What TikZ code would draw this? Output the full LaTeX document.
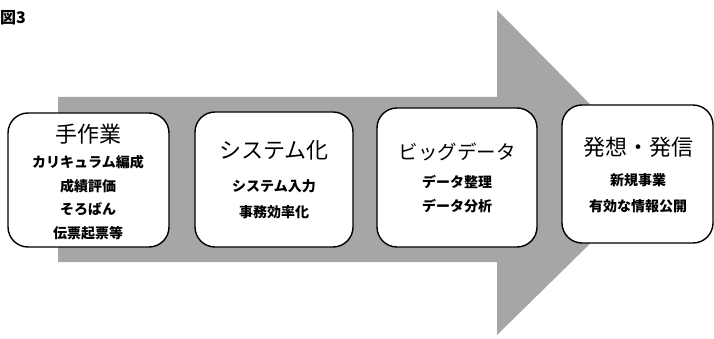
\documentclass[tikz,border=0pt]{standalone}
\usepackage{fontspec}
\newfontfamily\jp{Noto Sans CJK JP}
\begin{document}
\begin{tikzpicture}[x=1pt,y=-1pt,
  stagebox/.style={draw=black,line width=1.4pt,fill=white,rounded corners=20pt},
  ttl/.style={font=\jp\fontsize{22}{24}\selectfont,inner sep=0pt},
  sub/.style={font=\jp\bfseries\fontsize{14}{16}\selectfont,inner sep=0pt}]
\useasboundingbox (0,0) rectangle (714,339);
% big arrow
\fill[gray!70] (58,97) -- (497,97) -- (497,10) -- (660,175) -- (497,335) -- (497,262) -- (58,262) -- cycle;
% title
\node[font=\jp\bfseries\fontsize{16}{17}\selectfont,anchor=west,inner sep=0pt] (fig) at (0,18) {図3};
% boxes
\draw[stagebox] (8,113) rectangle (169,247);
\draw[stagebox] (195,112) rectangle (353,247);
\draw[stagebox] (377,108) rectangle (537,247);
\draw[stagebox] (562,105) rectangle (713,243);
% texts box 1
\node[ttl] (t1) at (88,134) {手作業};
\node[sub] (a1) at (88,162) {カリキュラム編成};
\node[sub] (a2) at (88,186) {成績評価};
\node[sub] (a3) at (88,209) {そろばん};
\node[sub] (a4) at (88,233) {伝票起票等};
% box 2
\node[ttl] (t2) at (274,150) {システム化};
\node[sub] (b1) at (274,186) {システム入力};
\node[sub] (b2) at (274,212) {事務効率化};
% box 3
\node[ttl,font=\jp\fontsize{19.5}{22}\selectfont] (t3) at (457,152) {ビッグデータ};
\node[sub] (c1) at (457,182) {データ整理};
\node[sub] (c2) at (457,206) {データ分析};
% box 4
\node[ttl] (t4) at (638,147) {発想・発信};
\node[sub] (d1) at (638,180) {新規事業};
\node[sub] (d2) at (638,206) {有効な情報公開};
\end{tikzpicture}
\end{document}
